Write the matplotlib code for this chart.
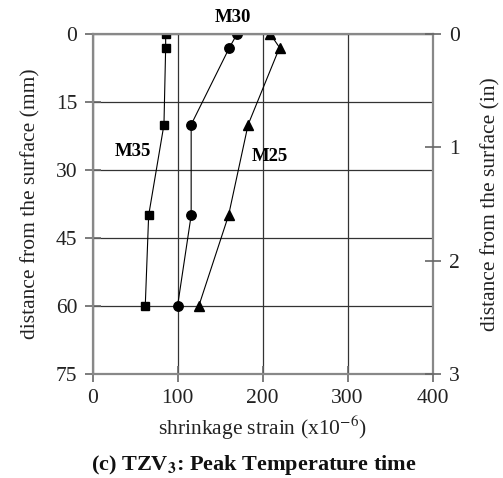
import matplotlib.pyplot as plt

# Data (strain x10^-6 vs depth in mm)
depth = [0, 3, 20, 40, 60]
m35 = [86, 86, 84, 66, 62]
m30 = [170, 161, 116, 116, 100]
m25 = [209, 220, 183, 160, 125]

plt.rcParams['font.family'] = ['Liberation Serif', 'DejaVu Serif']
plt.rcParams['mathtext.fontset'] = 'stix'

fig = plt.figure(figsize=(5.03, 4.78), dpi=100)
ax = fig.add_axes([0.184, 0.2176, 0.676, 0.7113])

ax.plot(m35, depth, color='black', lw=0.8, marker='s', ms=5.8)
ax.plot(m30, depth, color='black', lw=0.8, marker='o', ms=6.8)
ax.plot(m25, depth, color='black', lw=0.8, marker='^', ms=6.5)

ax.set_xlim(0, 400)
ax.set_ylim(75, 0)
ax.set_xticks([0, 100, 200, 300, 400])
ax.set_yticks([0, 15, 30, 45, 60, 75])
ax.grid(True, color='#333333', lw=0.9)
ax.set_axisbelow(True)
for s in ax.spines.values():
    s.set_color('#888888')
    s.set_linewidth(1.6)
ax.tick_params(direction='inout', length=12, width=1.2, color='#666666', labelsize=15.5, colors='#222222')
ax.tick_params(axis='x', pad=5)
ax.tick_params(axis='y', pad=5)
ax.set_xlabel('shrinkage strain (x10$^{-6}$)', fontsize=15.5, color='#222222', labelpad=4)
ax.set_ylabel('distance from the surface (mm)', fontsize=15.5, color='#222222', labelpad=11)

# Right axis in inches
ax2 = ax.twinx()
ax2.set_ylim(3, 0)
ax2.set_yticks([0, 1, 2, 3])
ax2.tick_params(direction='inout', length=12, width=1.2, color='#666666', labelsize=15.5, colors='#222222', pad=6)
for s in ax2.spines.values():
    s.set_visible(False)
ax2.set_ylabel('distance from the surface (in)', fontsize=15.5, color='#222222', labelpad=15)

# Series labels
ax.text(165, -3.7, 'M30', fontsize=13.5, fontweight='bold', ha='center', va='center', clip_on=False)
ax.text(47, 26, 'M35', fontsize=13.5, fontweight='bold', ha='center', va='center')
ax.text(209, 27, 'M25', fontsize=13.5, fontweight='bold', ha='center', va='center')

fig.text(0.504, 0.027, r'(c) TZV$_\mathbf{3}$: Peak Temperature time', fontsize=16,
         fontweight='bold', ha='center', va='center', color='#111111')

fig.savefig('out.png', dpi=100)
